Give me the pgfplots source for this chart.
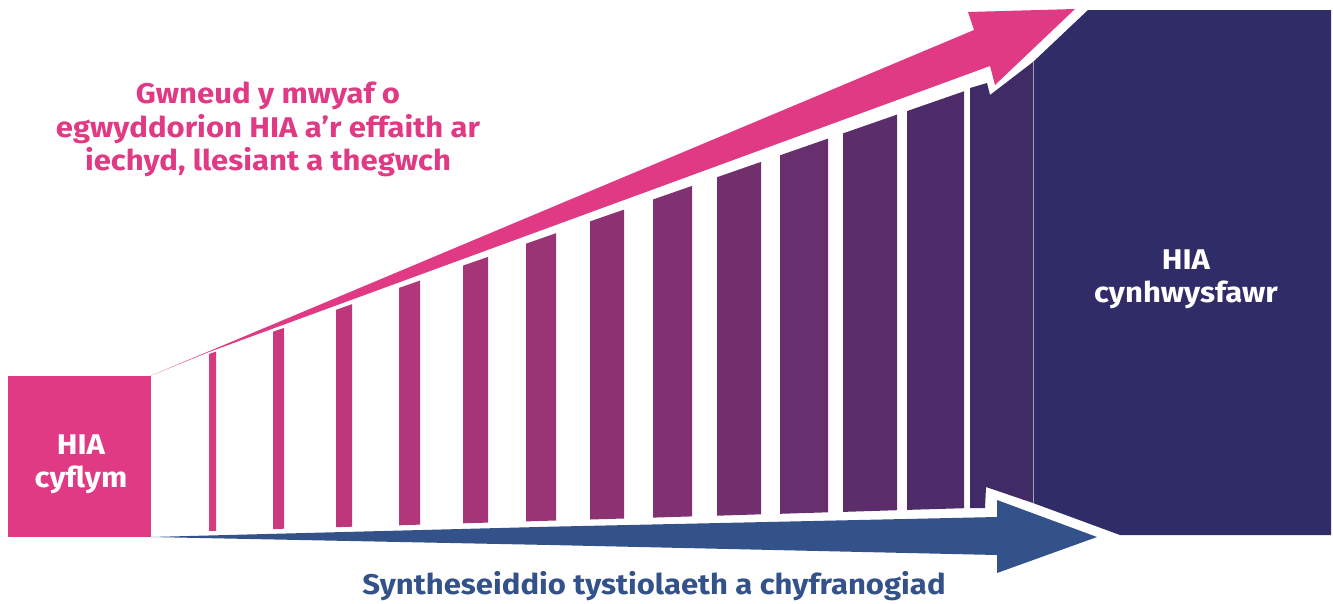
\documentclass[border=0pt]{standalone}
\usepackage{pgfplots}
\pgfplotsset{compat=1.18}
\usepackage{fontspec}
\setmainfont{Fira Sans}[FakeStretch=1.09]
\definecolor{hpink}{HTML}{E03A84}
\definecolor{hnavy}{HTML}{302C68}
\definecolor{hblue}{HTML}{33528A}
\definecolor{bstart}{HTML}{D83A80}
\definecolor{bend}{HTML}{412B67}
\tikzset{lbl/.style={font=\bfseries\fontsize{28.5}{34}\selectfont, anchor=base, inner sep=0pt}}
\begin{document}
\begin{tikzpicture}
\begin{axis}[scale only axis, width=1333pt, height=603pt,
  xmin=0, xmax=1333, ymin=0, ymax=603, y dir=reverse,
  hide axis, clip=false, no markers]
% frame for bounding box
\addplot[draw=none] coordinates {(0,0) (1333,603)};
% navy block
\addplot[draw=none, fill=hnavy] coordinates {(1033,503) (1120,535) (1331,535) (1331,10) (1088,10) (1033,62)};
% pink square
\addplot[draw=none, fill=hpink] coordinates {(8,376) (151,376) (151,537) (8,537)};
% bars
\addplot[draw=none, fill=bend!0!bstart]  coordinates {(209,354.0) (216,351.6) (216,530.8) (209,531.0)};
\addplot[draw=none, fill=bend!8!bstart]  coordinates {(273,331.7) (284,327.9) (284,528.7) (273,529.1)};
\addplot[draw=none, fill=bend!17!bstart] coordinates {(336,309.8) (352,304.2) (352,526.7) (336,527.2)};
\addplot[draw=none, fill=bend!25!bstart] coordinates {(399,287.9) (420,280.6) (420,524.6) (399,525.3)};
\addplot[draw=none, fill=bend!33!bstart] coordinates {(463,265.6) (488,256.9) (488,522.6) (463,523.3)};
\addplot[draw=none, fill=bend!42!bstart] coordinates {(526,243.7) (556,233.2) (556,520.5) (526,521.4)};
\addplot[draw=none, fill=bend!50!bstart] coordinates {(590,221.4) (624,209.6) (624,518.5) (590,519.5)};
\addplot[draw=none, fill=bend!58!bstart] coordinates {(653,199.5) (692,185.9) (692,516.4) (653,517.6)};
\addplot[draw=none, fill=bend!67!bstart] coordinates {(717,177.2) (761,161.9) (761,514.3) (717,515.7)};
\addplot[draw=none, fill=bend!75!bstart] coordinates {(780,155.3) (828,138.6) (828,512.3) (780,513.8)};
\addplot[draw=none, fill=bend!83!bstart] coordinates {(843,133.4) (897,114.6) (897,510.2) (843,511.9)};
\addplot[draw=none, fill=bend!92!bstart] coordinates {(907,111.1) (964,91.3) (964,508.2) (907,509.9)};
\addplot[draw=none, fill=bend!100!bstart] coordinates {(970,88) (987,83) (990,95) (1033,62) (1033,503) (986,487) (985,508) (970,508)};
% separator line
\addplot[draw=white!55!hnavy, line width=1pt] coordinates {(1033,62) (1033,503)};
% pink arrow
\addplot[draw=none, fill=hpink] coordinates {(150,376) (974,30) (968,12) (1075,9) (995,85) (990,66) (209,352)};
% blue arrow
\addplot[draw=none, fill=hblue] coordinates {(150,537) (550,526.7) (997,517) (997,500) (1097,537) (997,573) (997,555) (550,545)};
% labels
\node[lbl, text=hpink] at (axis cs:268,103) {Gwneud y mwyaf o};
\node[lbl, text=hpink] at (axis cs:268,137) {egwyddorion HIA a’r effaith ar};
\node[lbl, text=hpink] at (axis cs:268,170) {iechyd, llesiant a thegwch};
\node[lbl, text=white] at (axis cs:81,454) {HIA};
\node[lbl, text=white] at (axis cs:81,487) {cyflym};
\node[lbl, text=white] at (axis cs:1186,269) {HIA};
\node[lbl, text=white] at (axis cs:1186,302) {cynhwysfawr};
\node[lbl, text=hblue] at (axis cs:654,594) {Syntheseiddio tystiolaeth a chyfranogiad};
\end{axis}
\end{tikzpicture}
\end{document}
